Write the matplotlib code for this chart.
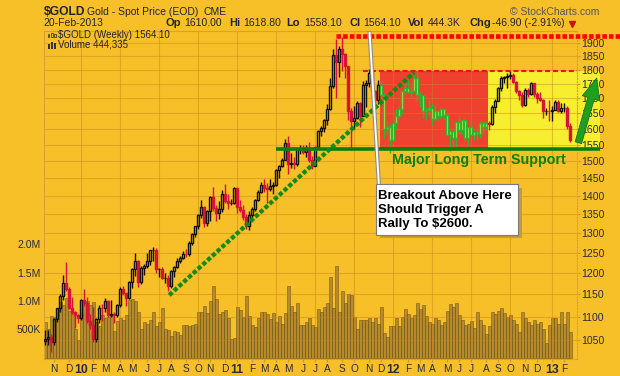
import numpy as np
import pandas as pd
import matplotlib
matplotlib.use("Agg")
import matplotlib.pyplot as plt
import matplotlib.patheffects as pe
from matplotlib.patches import Rectangle
from matplotlib.transforms import Affine2D
from matplotlib.ticker import NullLocator

plt.rcParams["font.family"] = ["Liberation Sans", "DejaVu Sans"]

# weekly $GOLD bars, week of 12-Oct-2009 .. week of 18-Feb-2013
first_week = "2009-10-12"
first_open = 1048.0

close = [
    1052, 1057, 1046, 1095, 1118, 1146, 1176, 1163, 1120, 1111, 1104, 1096,
    1138, 1131, 1090, 1081, 1052, 1094, 1119, 1118, 1134, 1103, 1106, 1104,
    1126, 1162, 1152, 1142, 1179, 1209, 1228, 1178, 1212, 1218, 1229, 1256,
    1256, 1210, 1210, 1188, 1189, 1169, 1205, 1215, 1228, 1237, 1247, 1246,
    1274, 1296, 1317, 1346, 1369, 1325, 1358, 1395, 1367, 1353, 1362, 1406,
    1386, 1379, 1380, 1421,
    1369, 1360, 1343, 1319, 1348, 1362, 1388, 1410, 1429, 1421, 1418, 1428,
    1429, 1474, 1486, 1504, 1556, 1491, 1493, 1491, 1536, 1541, 1528, 1538,
    1502, 1486, 1542, 1594, 1602, 1628, 1664, 1744, 1852, 1829, 1877, 1856,
    1812, 1657, 1624, 1636, 1683, 1642, 1747, 1753, 1788, 1725, 1696, 1745,
    1713, 1598, 1606, 1566,
    1617, 1640, 1665, 1726, 1737, 1723, 1725, 1771, 1711, 1710, 1659, 1662,
    1669, 1631, 1658, 1642, 1664, 1645, 1580, 1592, 1572, 1622, 1595, 1627,
    1572, 1604, 1579, 1590, 1583, 1620, 1604, 1620, 1616, 1671, 1692, 1737,
    1770, 1773, 1776, 1780, 1757, 1724, 1711, 1677, 1730, 1714, 1752, 1714,
    1702, 1696, 1658, 1659, 1657,
    1662, 1686, 1658, 1667, 1668, 1609, 1564.1,
]
high = [
    1070, 1071, 1062, 1097, 1120, 1150, 1195, 1226, 1168, 1144, 1112, 1105,
    1140, 1162, 1143, 1105, 1122, 1096, 1125, 1128, 1141, 1138, 1138, 1111,
    1127, 1168, 1170, 1154, 1182, 1212, 1249, 1232, 1216, 1222, 1250, 1257,
    1265, 1262, 1213, 1215, 1201, 1196, 1208, 1216, 1236, 1242, 1255, 1259,
    1278, 1300, 1318, 1349, 1387, 1372, 1360, 1398, 1424, 1375, 1384, 1415,
    1432, 1405, 1390, 1424,
    1423, 1389, 1373, 1349, 1359, 1370, 1392, 1417, 1440, 1446, 1436, 1448,
    1440, 1476, 1488, 1510, 1569, 1577, 1523, 1513, 1539, 1549, 1550, 1549,
    1558, 1516, 1544, 1595, 1610, 1632, 1682, 1772, 1877, 1913, 1889, 1921,
    1860, 1815, 1667, 1675, 1692, 1689, 1760, 1765, 1803, 1796, 1727, 1765,
    1761, 1717, 1625, 1614,
    1625, 1665, 1675, 1730, 1764, 1762, 1741, 1782, 1792, 1720, 1711, 1670,
    1695, 1680, 1679, 1659, 1667, 1668, 1648, 1597, 1601, 1628, 1641, 1628,
    1630, 1605, 1627, 1597, 1597, 1625, 1625, 1625, 1625, 1676, 1697, 1740,
    1778, 1779, 1787, 1796, 1787, 1760, 1728, 1723, 1737, 1736, 1755, 1754,
    1723, 1723, 1697, 1668, 1693,
    1674, 1694, 1694, 1684, 1684, 1673, 1618.8,
]
low = [
    1040, 1040, 1025, 1039, 1089, 1110, 1136, 1158, 1117, 1106, 1075, 1087,
    1093, 1123, 1086, 1073, 1045, 1045, 1086, 1090, 1111, 1100, 1100, 1087,
    1099, 1121, 1148, 1124, 1140, 1164, 1192, 1167, 1175, 1194, 1213, 1219,
    1228, 1200, 1191, 1186, 1176, 1157, 1165, 1190, 1212, 1223, 1234, 1240,
    1241, 1270, 1288, 1310, 1340, 1316, 1317, 1332, 1358, 1330, 1337, 1355,
    1379, 1364, 1373, 1378,
    1353, 1355, 1335, 1309, 1308, 1340, 1357, 1384, 1408, 1410, 1381, 1414,
    1406, 1428, 1450, 1482, 1502, 1462, 1480, 1477, 1486, 1520, 1520, 1512,
    1496, 1478, 1484, 1538, 1578, 1590, 1611, 1660, 1735, 1702, 1775, 1795,
    1769, 1627, 1535, 1598, 1630, 1604, 1640, 1670, 1740, 1704, 1675, 1681,
    1702, 1570, 1583, 1523,
    1562, 1600, 1634, 1647, 1715, 1717, 1703, 1722, 1688, 1672, 1635, 1627,
    1641, 1612, 1628, 1627, 1633, 1632, 1578, 1532, 1534, 1537, 1582, 1583,
    1562, 1547, 1576, 1565, 1565, 1571, 1582, 1598, 1597, 1612, 1650, 1690,
    1726, 1752, 1736, 1767, 1752, 1718, 1695, 1670, 1673, 1705, 1712, 1705,
    1683, 1690, 1636, 1645, 1626,
    1626, 1660, 1653, 1652, 1653, 1598, 1558.1,
]
# weekly volume, millions
volume_m = [
    0.62, 0.50, 0.73, 0.72, 0.88, 0.98, 0.93, 1.05, 0.83, 0.78, 0.50, 0.31,
    0.79, 0.97, 1.00, 0.93, 0.98, 0.62, 0.56, 0.75, 0.70, 0.72, 0.73, 0.47,
    0.64, 0.70, 0.66, 0.75, 1.02, 1.04, 1.00, 0.80, 0.50, 0.63, 0.60, 0.66,
    0.80, 0.55, 0.62, 0.88, 0.50, 0.48, 0.38, 0.47, 0.45, 0.40, 0.57, 0.58,
    0.56, 0.57, 0.60, 0.81, 0.81, 0.91, 0.78, 0.99, 1.26, 1.04, 0.76, 0.81,
    0.84, 0.69, 0.32, 0.34,
    0.89, 0.84, 0.71, 1.09, 0.74, 0.57, 0.54, 0.69, 0.80, 0.80, 0.76, 0.68,
    0.78, 0.63, 0.74, 0.59, 0.78, 1.27, 0.91, 0.81, 0.96, 0.57, 0.57, 0.62,
    0.70, 0.57, 0.54, 0.85, 0.81, 0.89, 0.97, 1.42, 0.87, 1.62, 0.81, 1.17,
    0.96, 1.12, 1.10, 0.71, 0.50, 0.67, 0.67, 0.66, 0.70, 0.63, 0.69, 0.60,
    0.89, 0.44, 0.36, 0.56,
    0.56, 0.69, 0.56, 0.72, 0.85, 0.76, 0.70, 0.75, 0.96, 0.85, 0.92, 0.73,
    0.63, 0.60, 0.69, 0.66, 0.58, 0.62, 0.82, 0.95, 0.90, 0.97, 0.75, 0.67,
    0.58, 0.60, 0.65, 0.53, 0.81, 0.66, 0.58, 0.42, 0.55, 0.80, 0.76, 0.82,
    0.88, 0.78, 0.72, 0.75, 0.66, 0.60, 0.45, 0.81, 0.69, 0.62, 0.58, 0.66,
    0.60, 0.62, 0.50, 0.26, 0.57,
    0.69, 0.69, 0.60, 0.81, 0.60, 0.81, 0.444335,
]

price_ticks = list(range(1050, 1901, 50))
vol_ticks = [0.5, 1.0, 1.5, 2.0]
vol_labels = ["500K", "1.0M", "1.5M", "2.0M"]

# drawn annotations (week index, price)
support_level = 1537
resistance_level = 1796
peak_level = 1926
red_box = (111.6, 147.6)
yellow_box = (147.6, 184.9)
support_span = (76.9, 184.9)
resist_span = (105.9, 180.0)
peak_span = (96.9, 192.0)
trend_from, trend_to = (41.3, 1148), (122.9, 1790)
pointer_from, pointer_to = (108.1, 1937), (111.2, 1430)
arrow_tail, arrow_tip = (177.7, 1556), (183.8, 1770)

BG = "#f7c028"
GRID = "#c98420"
W, H = 620, 376

fig = plt.figure(figsize=(W / 100, H / 100), dpi=100, facecolor=BG)
px = Affine2D().scale(1 / W, -1 / H).translate(0, 1) + fig.transFigure

ax = fig.add_axes([44 / W, 1 - 359 / H, 533 / W, (359 - 30.7) / H])
ax.set_facecolor(BG)
ax2 = ax.twinx()
ax2.patch.set_visible(False)

n = len(close)
x = np.arange(n)
c = np.array(close, float)
hi = np.array(high, float)
lo = np.array(low, float)
o = np.r_[first_open, c[:-1]]
rise = c >= o
body_lo = np.minimum(o, c)
body_hi = np.maximum(o, c)
in_red = (x > red_box[0]) & (x < red_box[1])

# volume
ax.bar(x, volume_m, width=1.0, color="#9c772e", alpha=0.72,
       edgecolor="#6b5016", linewidth=0.5, zorder=1)

# boxes
ax2.fill_between(red_box, support_level, resistance_level, color="#ef4030",
                 lw=0, zorder=0.2)
ax2.fill_between(yellow_box, support_level, resistance_level, color="#f7ee30",
                 lw=0, zorder=0.2, clip_on=False)

# candles
edge = np.where(in_red, "#2fb82f", np.where(rise, "#111111", "#d8123a"))
fill = np.where(in_red, "#dbee50", np.where(rise, "none", "#d8123a"))
ax2.vlines(x, body_hi, hi, colors=edge, lw=1.0, zorder=3)
ax2.vlines(x, lo, body_lo, colors=edge, lw=1.0, zorder=3)
ax2.bar(x, body_hi - body_lo, bottom=body_lo, width=0.66, color=list(fill),
        edgecolor=list(edge), linewidth=1.0, zorder=4)

# annotation lines
ax2.plot(peak_span, [peak_level] * 2, color="#ff0000", lw=3.3,
         linestyle=(0, (1.0, 0.45)), dash_capstyle="butt", clip_on=False, zorder=6)
ax2.plot(resist_span, [resistance_level] * 2, color="#ee1111", lw=1.5,
         linestyle=(0, (2.4, 1.4)), zorder=5)
ax2.plot(support_span, [support_level] * 2, color="#0a7d0a", lw=2.6,
         solid_capstyle="butt", clip_on=False, zorder=6)
ax2.plot([trend_from[0], trend_to[0]], [trend_from[1], trend_to[1]],
         color="#128c12", lw=3.1, linestyle=(0, (1.0, 0.5)),
         dash_capstyle="butt", zorder=6)
ax2.plot([pointer_from[0], pointer_to[0]], [pointer_from[1], pointer_to[1]],
         color="white", lw=1.4, zorder=7,
         path_effects=[pe.Stroke(linewidth=3.0, foreground="#8c8c8c"), pe.Normal()])
ann = ax2.annotate("", xy=arrow_tip, xytext=arrow_tail, annotation_clip=False,
                   arrowprops=dict(arrowstyle="simple,head_length=1.5,head_width=1.3,tail_width=0.48",
                                   fc="#1f9e1f", ec="#157515", lw=0.6,
                                   shrinkA=0, shrinkB=0, mutation_scale=10))
ann.arrow_patch.set_clip_on(False)
ann.arrow_patch.set_zorder(8)

ax2.text(115.5, 1490.6, "Major Long Term Support", color="#0e7f0e",
         fontsize=10.3, fontweight="bold", ha="left", va="baseline", zorder=8)

# axes & grid
ax.set_xlim(-0.43, 177.23)
ax.set_ylim(-0.026, 5.77)
ax2.set_yscale("log")
ax2.set_ylim(1010.8, 1945.6)
ax2.set_yticks(price_ticks)
ax2.set_yticklabels([str(v) for v in price_ticks])
ax2.yaxis.set_minor_locator(NullLocator())
ax2.set_axisbelow(True)
ax2.grid(axis="y", color=GRID, alpha=0.45, lw=0.8)
ax2.tick_params(axis="y", length=2, pad=1, colors="#c99a2a",
                labelcolor="#2b2b3b", labelsize=7.6)

ax.set_yticks(vol_ticks)
ax.set_yticklabels(vol_labels)
ax.tick_params(axis="y", length=0, pad=2.2, labelcolor="#2b2b3b", labelsize=7.6)

weeks = pd.date_range(first_week, periods=n, freq="W-MON")
letters = "JFMAMJJASOND"
month_pos = [i for i in range(1, n) if weeks[i].month != weeks[i - 1].month]
labels = [f"{weeks[i].year % 100:02d}" if weeks[i].month == 1
          else letters[weeks[i].month - 1] for i in month_pos]
ax.set_xticks(month_pos)
ax.set_xticklabels(labels)
ax.tick_params(axis="x", length=2, pad=1.5, colors="#c99a2a",
               labelcolor="#2b2b3b", labelsize=7.3)
for i, t in zip(month_pos, ax.get_xticklabels()):
    if weeks[i].month == 1:
        t.set_fontweight("bold")
        t.set_fontsize(8.8)
for i in month_pos:
    if weeks[i].month in (1, 4, 7, 10):
        ax2.axvline(i, color=GRID, alpha=0.45, lw=0.8, zorder=0.5)

for s in ax.spines.values():
    s.set_visible(False)
for name, s in ax2.spines.items():
    s.set_color("#d9a426")
    s.set_linewidth(0.8)
ax2.spines["right"].set_linestyle(":")

# header
def ftext(xp, yp, s, **kw):
    kw.setdefault("fontsize", 7.5)
    kw.setdefault("color", "#222233")
    fig.text(xp, yp, s, transform=px, va="center", ha="left", **kw)

ftext(43.5, 12, "$GOLD", fontsize=8.7, fontweight="bold")
ftext(87, 12, "Gold - Spot Price (EOD)")
ftext(204, 12, "CME")
ftext(510, 12, "\u00a9 StockCharts.com", color="#555555")
pieces = [(43.5, "20-Feb-2013", False), (166, "Op", True), (184, "1610.00", False),
          (229, "Hi", True), (243, "1618.80", False), (286, "Lo", True),
          (304, "1558.10", False), (349.5, "Cl", True), (363, f"{close[-1]:.2f}", False),
          (408, "Vol", True), (428, "444.3K", False), (469, "Chg", True),
          (492, "-46.90 (-2.91%)", False)]
for xp, s, b in pieces:
    ftext(xp, 23.5, s, fontweight="bold" if b else "normal",
          fontsize=8 if b else 7.5)
fig.lines.append(plt.Line2D([571.5], [23.8], transform=px, marker="v",
                            color="#cc1111", markersize=4.5, linestyle="none"))

# in-chart legend
ftext(58.3, 35.2, f"$GOLD (Weekly) {close[-1]:.2f}", fontsize=7.0)
ftext(58.3, 44.7, f"Volume {int(round(volume_m[-1] * 1e6)):,}", fontsize=7.0)
for rx, ry, rh in [(47.6, 33.5, 3.5), (50.8, 32.5, 4.5), (54.0, 34.0, 3.0)]:
    fig.add_artist(Rectangle((rx, ry), 1.8, rh, transform=px, fill=False,
                             ec="#222222", lw=0.5))
for rx, ry, rh in [(47.5, 43.5, 5.0), (50.5, 41.5, 7.0), (53.5, 42.5, 6.0)]:
    fig.add_artist(Rectangle((rx, ry), 2.2, rh, transform=px, fc="#333333", lw=0))

# callout box
fig.add_artist(Rectangle((379.5, 187.5), 142.3, 50.7, transform=px,
                         fc="#c49a3c", lw=0, zorder=9))
fig.add_artist(Rectangle((376, 184.3), 142.3, 50.7, transform=px,
                         fc="white", ec="#7a7a7a", lw=0.8, zorder=10))
for yp, s in [(199.0, "Breakout Above Here"), (212.9, "Should Trigger A"),
              (226.8, "Rally To $2600.")]:
    fig.text(378.5, yp, s, transform=px, ha="left", va="baseline",
             fontsize=9.5, fontweight="bold", color="black", zorder=11)

fig.savefig("out.png", dpi=100, facecolor=BG)
